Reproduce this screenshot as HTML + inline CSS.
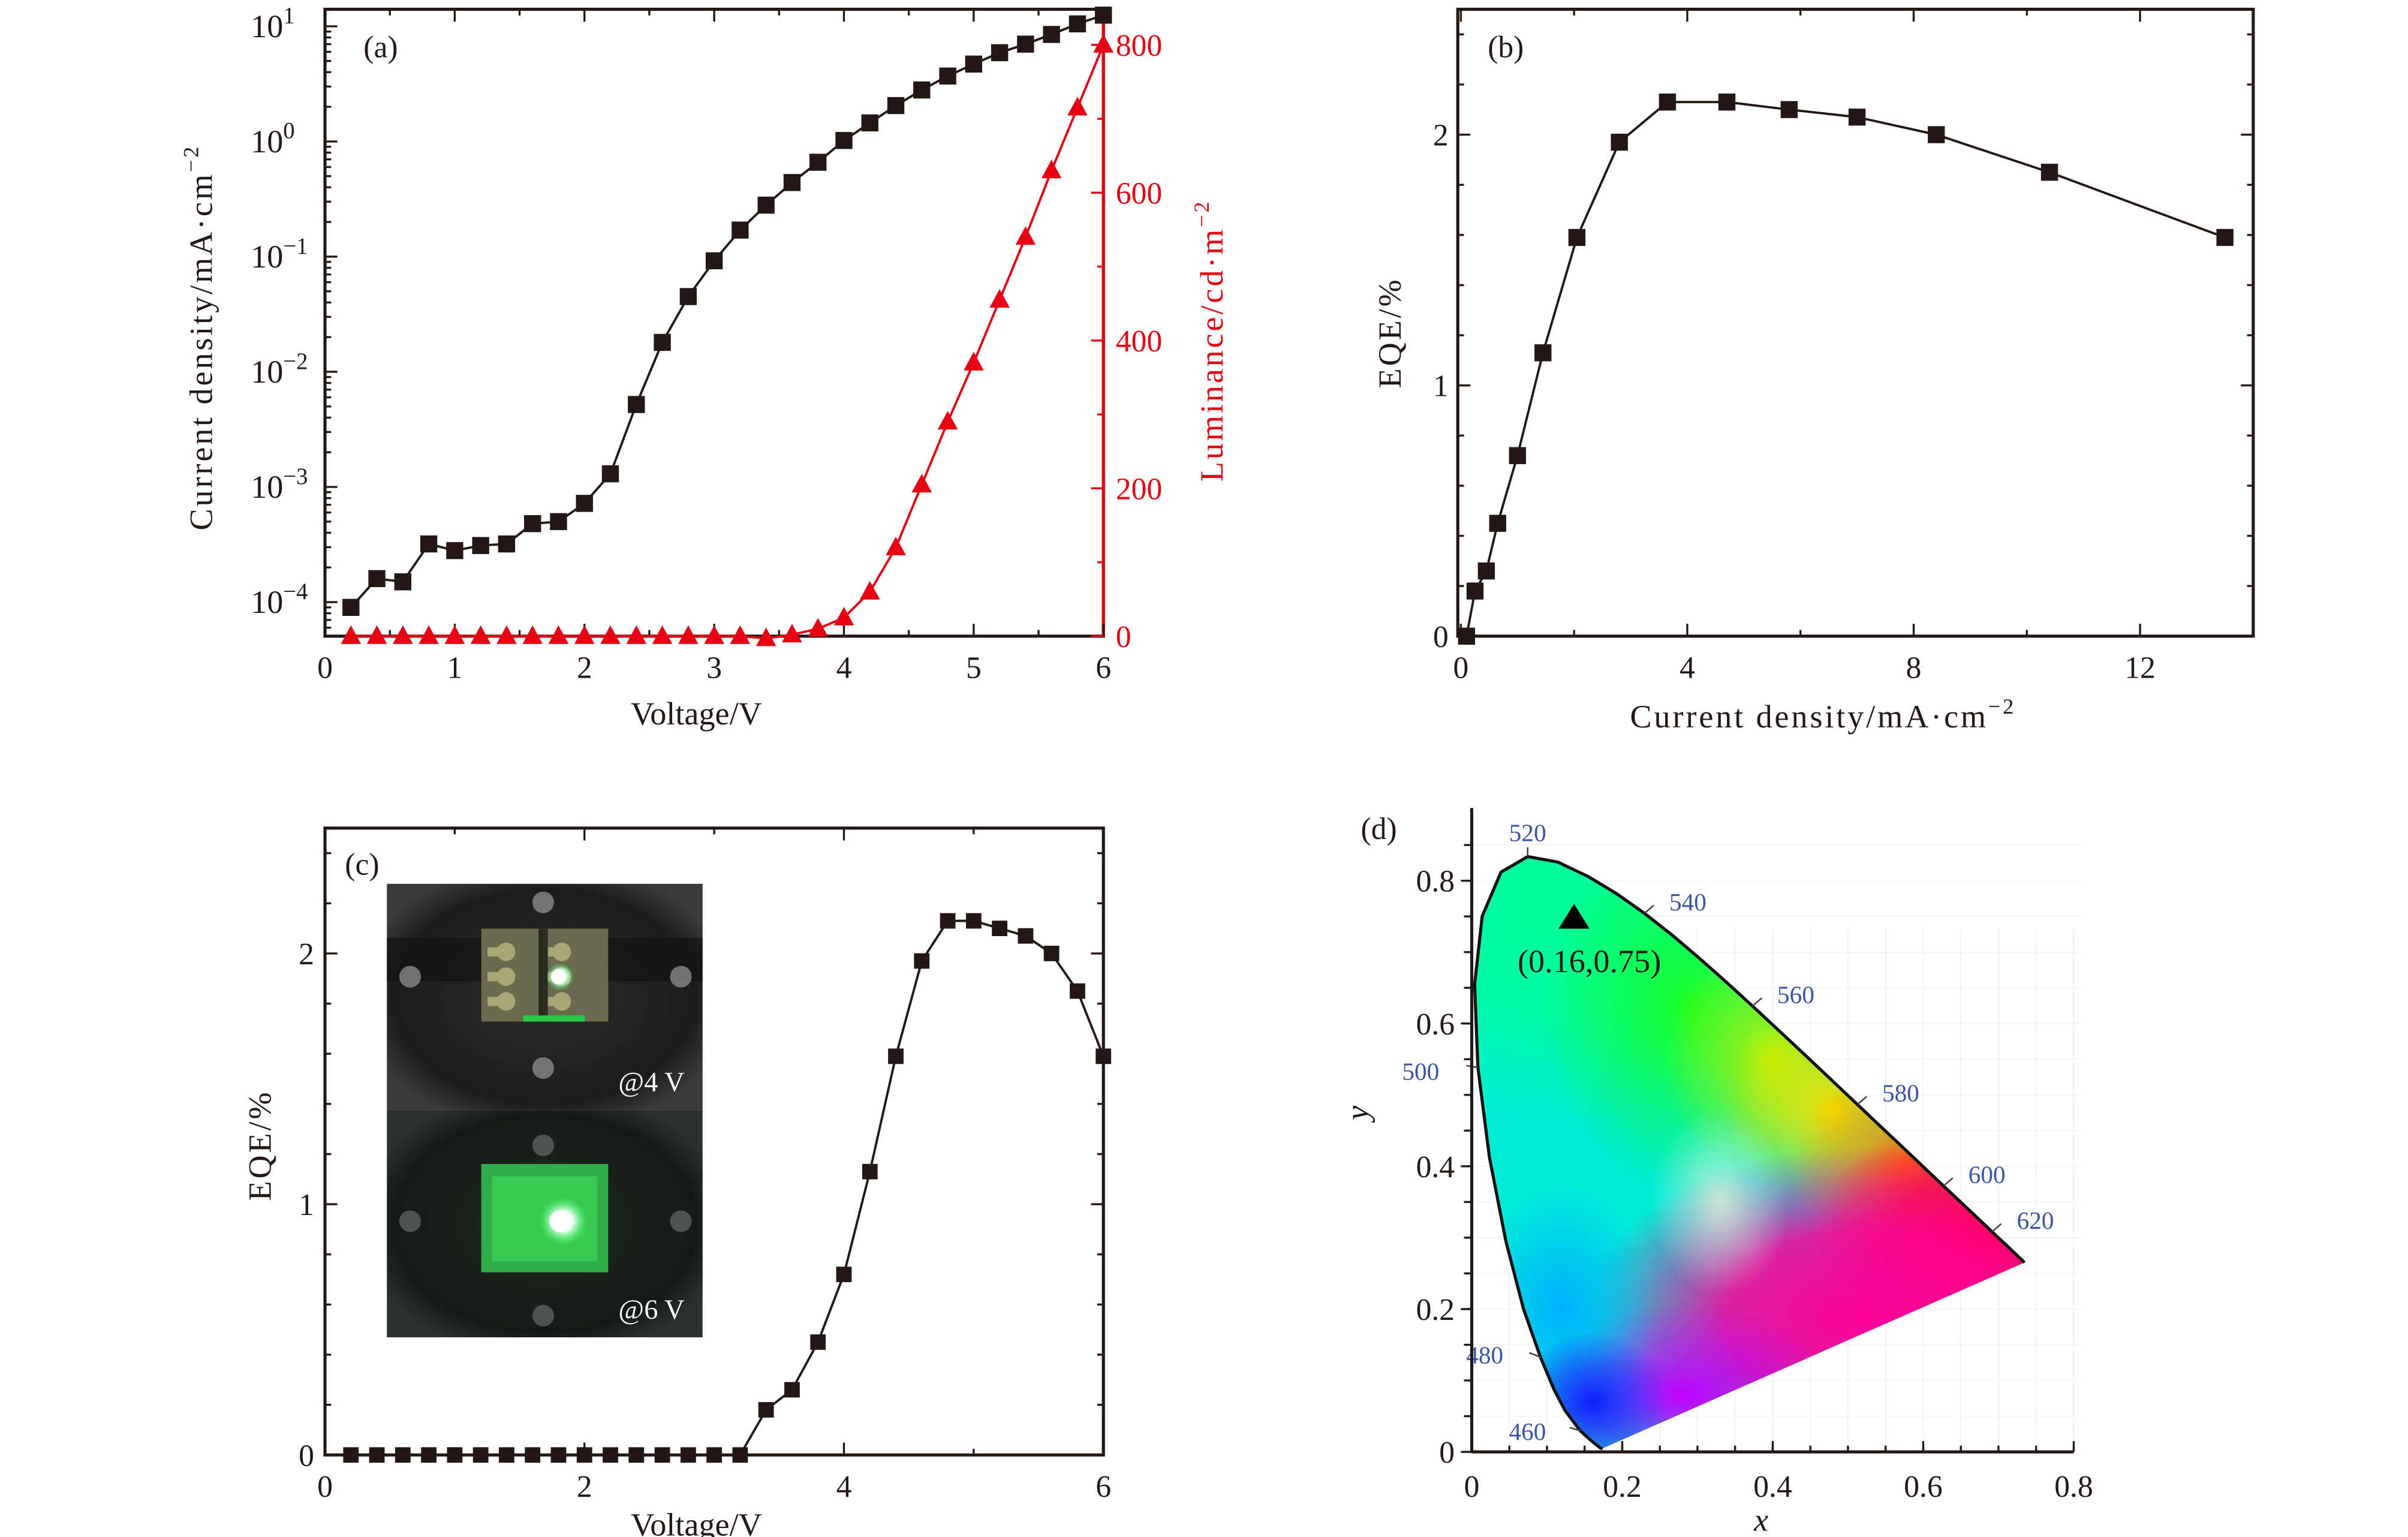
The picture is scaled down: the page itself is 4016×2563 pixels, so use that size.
<!DOCTYPE html>
<html><head><meta charset="utf-8">
<style>
html,body{margin:0;padding:0;background:#fff;}
svg{display:block;}
text{font-family:"Liberation Serif",serif;}
</style></head>
<body>
<svg id="fig" width="4016" height="2563" viewBox="0 0 1556 993" preserveAspectRatio="none" xmlns="http://www.w3.org/2000/svg">
<defs>
  <clipPath id="cieClip"><path id="cieClipPath" d=""/></clipPath>
  <radialGradient id="gWhite" cx="0.5" cy="0.5" r="0.5"><stop offset="0" stop-color="#eef0dc" stop-opacity="0.8"/><stop offset="1" stop-color="#eef0dc" stop-opacity="0"/></radialGradient>
  <radialGradient id="gMint" cx="0.5" cy="0.5" r="0.5"><stop offset="0" stop-color="#00ff98"/><stop offset="0.5" stop-color="#00ff98" stop-opacity="0.8"/><stop offset="1" stop-color="#00ff98" stop-opacity="0"/></radialGradient>
  <radialGradient id="gGreen" cx="0.5" cy="0.5" r="0.5"><stop offset="0" stop-color="#18ff20"/><stop offset="1" stop-color="#18ff20" stop-opacity="0"/></radialGradient>
  <radialGradient id="gLime" cx="0.5" cy="0.5" r="0.5"><stop offset="0" stop-color="#b8f000"/><stop offset="1" stop-color="#b8f000" stop-opacity="0"/></radialGradient>
  <radialGradient id="gYellow" cx="0.5" cy="0.5" r="0.5"><stop offset="0" stop-color="#f4e000"/><stop offset="1" stop-color="#f4e000" stop-opacity="0"/></radialGradient>
  <radialGradient id="gOrange" cx="0.5" cy="0.5" r="0.5"><stop offset="0" stop-color="#ff8400"/><stop offset="1" stop-color="#ff8400" stop-opacity="0"/></radialGradient>
  <radialGradient id="gRed" cx="0.5" cy="0.5" r="0.5"><stop offset="0" stop-color="#ff0030"/><stop offset="0.5" stop-color="#ff0030" stop-opacity="0.8"/><stop offset="1" stop-color="#ff0030" stop-opacity="0"/></radialGradient>
  <radialGradient id="gMag" cx="0.5" cy="0.5" r="0.5"><stop offset="0" stop-color="#ff0098"/><stop offset="0.5" stop-color="#ff0098" stop-opacity="0.85"/><stop offset="1" stop-color="#ff0098" stop-opacity="0"/></radialGradient>
  <radialGradient id="gViolet" cx="0.5" cy="0.5" r="0.5"><stop offset="0" stop-color="#c000ff"/><stop offset="1" stop-color="#c000ff" stop-opacity="0"/></radialGradient>
  <radialGradient id="gBlue" cx="0.5" cy="0.5" r="0.5"><stop offset="0" stop-color="#1020ff"/><stop offset="1" stop-color="#1020ff" stop-opacity="0"/></radialGradient>
  <radialGradient id="gSky" cx="0.5" cy="0.5" r="0.5"><stop offset="0" stop-color="#00b0ff"/><stop offset="1" stop-color="#00b0ff" stop-opacity="0"/></radialGradient>
  <radialGradient id="photoBg" cx="0.5" cy="0.5" r="0.6"><stop offset="0" stop-color="#2a2c2a"/><stop offset="0.8" stop-color="#1c1d1c"/><stop offset="1" stop-color="#3a3b3a"/></radialGradient>
  <radialGradient id="photoBg2" cx="0.5" cy="0.5" r="0.6"><stop offset="0" stop-color="#1f2a22"/><stop offset="0.8" stop-color="#151a16"/><stop offset="1" stop-color="#2c322e"/></radialGradient>
  <radialGradient id="glow" cx="0.5" cy="0.5" r="0.5"><stop offset="0" stop-color="#ffffff"/><stop offset="0.4" stop-color="#e8fff0"/><stop offset="1" stop-color="#30ff60" stop-opacity="0"/></radialGradient>
</defs>
<g id="root"></g>
</svg>
<script>
// ---------- data ----------
const voltA = [0.2,0.4,0.6,0.8,1.0,1.2,1.4,1.6,1.8,2.0,2.2,2.4,2.6,2.8,3.0,3.2,3.4,3.6,3.8,4.0,4.2,4.4,4.6,4.8,5.0,5.2,5.4,5.6,5.8,6.0];
const currentDensity = [9e-5,1.6e-4,1.5e-4,3.2e-4,2.8e-4,3.1e-4,3.2e-4,4.8e-4,5.0e-4,7.2e-4,1.3e-3,5.2e-3,1.8e-2,4.5e-2,9.2e-2,0.17,0.28,0.44,0.66,1.02,1.45,2.05,2.8,3.7,4.7,5.9,7.0,8.5,10.5,12.5];
const luminance = [0,0,0,0,0,0,0,0,0,0,0,0,0,0,0,0,-3,2,10,25,60,120,205,290,370,455,540,630,715,800];
const jB = [0.1,0.25,0.45,0.65,1.0,1.45,2.05,2.8,3.65,4.7,5.8,7.0,8.4,10.4,13.5];
const eqeB = [0,0.18,0.26,0.45,0.72,1.13,1.59,1.97,2.13,2.13,2.1,2.07,2.0,1.85,1.59];
const eqeC = [0,0,0,0,0,0,0,0,0,0,0,0,0,0,0,0,0.18,0.26,0.45,0.72,1.13,1.59,1.97,2.13,2.13,2.1,2.07,2.0,1.85,1.59];
const aLeftTicks = [-4,-3,-2,-1,0,1];
const aRightTicks = [0,200,400,600,800];
const aXTicks = [0,1,2,3,4,5,6];
const bXTicks = [0,4,8,12];
const eqeTicks = [0,1,2];
const cXTicks = [0,2,4,6];
const dTicks = [0,0.2,0.4,0.6,0.8];
const cieLocusX = [0.1741,0.1714,0.1644,0.1566,0.1440,0.1241,0.1096,0.0913,0.0687,0.0454,0.0235,0.0082,0.0039,0.0139,0.0389,0.0743,0.1142,0.1547,0.1929,0.2296,0.2658,0.3016,0.3373,0.3731,0.4087,0.4441,0.4788,0.5125,0.5448,0.5752,0.6029,0.6270,0.6482,0.6658,0.6801,0.6915,0.7006,0.7079,0.7140,0.7190,0.7347];
const cieLocusY = [0.0050,0.0051,0.0109,0.0177,0.0297,0.0578,0.0868,0.1327,0.2007,0.2950,0.4127,0.5384,0.6548,0.7502,0.8120,0.8338,0.8262,0.8059,0.7816,0.7543,0.7243,0.6923,0.6589,0.6245,0.5896,0.5547,0.5202,0.4866,0.4544,0.4242,0.3965,0.3725,0.3514,0.3340,0.3197,0.3083,0.2993,0.2920,0.2859,0.2809,0.2653];
const wlLabels = ["460","480","500","520","540","560","580","600","620"];
const wlX = [0.1440,0.0913,0.0082,0.0743,0.2296,0.3731,0.5125,0.6270,0.6915];
const wlY = [0.0297,0.1327,0.5384,0.8338,0.7543,0.6245,0.4866,0.3725,0.3083];
const ciePointX = [0.136];
const ciePointY = [0.748];

// ---------- helpers ----------
const NS="http://www.w3.org/2000/svg";
const root=document.getElementById('root');
function mk(tag,attrs,parent){const e=document.createElementNS(NS,tag);for(const k in attrs)e.setAttribute(k,attrs[k]);(parent||root).appendChild(e);return e;}
function txt(s,x,y,size,anchor,parent,fill,extra){const t=mk('text',Object.assign({x:x,y:y,'font-size':size,'text-anchor':anchor||'middle',fill:fill||'#231815'},extra||{}),parent);t.textContent=s;return t;}
function line(x1,y1,x2,y2,parent,stroke,w){return mk('line',{x1:x1,y1:y1,x2:x2,y2:y2,stroke:stroke||'#231815','stroke-width':w||1.3},parent);}
const lin=(d0,d1,p0,p1)=>v=>p0+(v-d0)*(p1-p0)/(d1-d0);

// ---------- panel a ----------
const ga=mk('g',{});


const axA=lin(0,6,210,713);
const ayA=v=>389-(Math.log10(v)+4)*74.4;
const ayR=lin(0,800,411,29);
mk('rect',{x:210,y:6,width:503,height:405,fill:'none',stroke:'#231815','stroke-width':2},ga);
line(713,6,713,411,ga,'#e60012',2);
aXTicks.forEach(v=>{const x=axA(v);line(x,411,x,403,ga);line(x,6,x,14,ga);txt(String(v),x,438,20,'middle',ga);});
for(let v=0.5;v<6;v+=1){const x=axA(v);line(x,411,x,407,ga);line(x,6,x,10,ga);}
aLeftTicks.forEach(p=>{const y=ayA(Math.pow(10,p));line(210,y,218,y,ga);
  const t=txt('10',195,y+7,21,'end',ga);const s=mk('tspan',{dy:-9,'font-size':15},t);s.textContent=(p<0?'\u2212':'')+Math.abs(p);t.setAttribute('x',162);t.setAttribute('text-anchor','start');});
for(let p=-5;p<=1;p++){for(let m=2;m<=9;m++){const y=ayA(m*Math.pow(10,p));if(y>6&&y<411)line(210,y,214,y,ga);}}
aRightTicks.forEach(v=>{const y=ayR(v);line(713,y,705,y,ga,'#e60012');txt(String(v),721,y+7,20,'start',ga,'#e60012');});
for(let v=100;v<800;v+=200){const y=ayR(v);line(713,y,709,y,ga,'#e60012');}
const la=txt('Current density/mA\u00b7cm',0,0,21,'middle',ga,'#231815',{transform:'translate(137,218) rotate(-90)','letter-spacing':'1.5'});
const las=mk('tspan',{dy:-9,'font-size':14},la);las.textContent='\u22122';
const lr=txt('Luminance/cd\u00b7m',0,0,21,'middle',ga,'#e60012',{transform:'translate(790,220) rotate(-90)','letter-spacing':'1.5'});
const lrs=mk('tspan',{dy:-9,'font-size':14},lr);lrs.textContent='\u22122';
txt('Voltage/V',450,468,21,'middle',ga);
txt('(a)',246,37,20,'middle',ga);
let pts=voltA.map((v,i)=>axA(v)+','+ayA(currentDensity[i])).join(' ');
const jl=mk('polyline',{points:pts,fill:'none',stroke:'#231815','stroke-width':1.5},ga);


voltA.forEach((v,i)=>{const r=mk('rect',{x:axA(v)-5.5,y:ayA(currentDensity[i])-5.5,width:11,height:11,fill:'#231815'},ga);
  
  });
pts=voltA.map((v,i)=>axA(v)+','+ayR(luminance[i])).join(' ');
const ll=mk('polyline',{points:pts,fill:'none',stroke:'#e60012','stroke-width':1.5},ga);


voltA.forEach((v,i)=>{const x=axA(v),y=ayR(luminance[i]);const t=mk('polygon',{points:`${x},${y-7} ${x-6.5},${y+5} ${x+6.5},${y+5}`,fill:'#e60012'},ga);
  
  });

// ---------- panel b ----------
const gb=mk('g',{});


const axB=lin(0,14,944,1456);
const ayB=lin(0,2.5,411,6);
mk('rect',{x:942,y:6,width:514,height:405,fill:'none',stroke:'#231815','stroke-width':2},gb);
bXTicks.forEach(v=>{const x=axB(v);line(x,411,x,403,gb);line(x,6,x,14,gb);txt(String(v),x,438,20,'middle',gb);});
for(let v=2;v<14;v+=4){const x=axB(v);line(x,411,x,407,gb);line(x,6,x,10,gb);}
eqeTicks.forEach(v=>{const y=ayB(v);line(942,y,950,y,gb);line(1456,y,1448,y,gb);txt(String(v),936,y+7,20,'end',gb);});
for(let v=0.2;v<2.5;v+=0.2){const y=ayB(v);if(Math.abs(v-1)>0.05&&Math.abs(v-2)>0.05){line(942,y,946,y,gb);line(1456,y,1452,y,gb);}}
txt('EQE/%',0,0,21,'middle',gb,'#231815',{transform:'translate(905,215) rotate(-90)','letter-spacing':'1.5'});
const lb=txt('Current density/mA\u00b7cm',1178,470,21,'middle',gb,'#231815',{'letter-spacing':'1.5'});
const lbs=mk('tspan',{dy:-9,'font-size':14},lb);lbs.textContent='\u22122';
txt('(b)',973,37,20,'middle',gb);
pts=jB.map((v,i)=>axB(v)+','+ayB(eqeB[i])).join(' ');
const bl=mk('polyline',{points:pts,fill:'none',stroke:'#231815','stroke-width':1.5},gb);


jB.forEach((v,i)=>{const r=mk('rect',{x:axB(v)-5.5,y:ayB(eqeB[i])-5.5,width:11,height:11,fill:'#231815'},gb);
  
  });

// ---------- panel c ----------
const gc=mk('g',{});


const axC=lin(0,6,210,713);
const ayC=lin(0,2.5,940,535);
mk('rect',{x:210,y:535,width:503,height:405,fill:'none',stroke:'#231815','stroke-width':2},gc);
cXTicks.forEach(v=>{const x=axC(v);line(x,940,x,932,gc);line(x,535,x,543,gc);txt(String(v),x,967,20,'middle',gc);});
for(let v=1;v<6;v+=2){const x=axC(v);line(x,940,x,936,gc);line(x,535,x,539,gc);}
eqeTicks.forEach(v=>{const y=ayC(v);line(210,y,218,y,gc);line(713,y,705,y,gc);txt(String(v),203,y+7,20,'end',gc);});
for(let v=0.2;v<2.5;v+=0.2){const y=ayC(v);if(Math.abs(v-1)>0.05&&Math.abs(v-2)>0.05){line(210,y,214,y,gc);line(713,y,709,y,gc);}}
txt('EQE/%',0,0,21,'middle',gc,'#231815',{transform:'translate(175,740) rotate(-90)','letter-spacing':'1.5'});
txt('Voltage/V',450,992,21,'middle',gc);
txt('(c)',234,565,20,'middle',gc);
// inset photos
const ph=mk('g',{},gc);


mk('rect',{x:250,y:571,width:204,height:146,fill:'url(#photoBg)'},ph);
mk('rect',{x:250,y:717,width:204,height:147,fill:'url(#photoBg2)'},ph);
mk('rect',{x:250,y:606,width:204,height:28,fill:'#121312',opacity:0.7},ph);
mk('rect',{x:311,y:600,width:82,height:60,fill:'#6b6a4e'},ph);
for(let r=0;r<3;r++){for(let c=0;c<2;c++){mk('circle',{cx:327+c*36,cy:615+r*16,r:6,fill:'#a8a577'},ph);mk('rect',{x:315+c*36,y:612+r*16,width:12,height:6,fill:'#a8a577'},ph);}}
mk('rect',{x:348,y:600,width:6,height:60,fill:'#2a2b22'},ph);
mk('circle',{cx:362,cy:631,r:9,fill:'url(#glow)'},ph);
mk('circle',{cx:361,cy:631,r:5,fill:'#ffffff'},ph);
mk('rect',{x:338,y:656,width:40,height:4,fill:'#2cc84a'},ph);
[[265,631],[440,631],[351,583],[351,690]].forEach(p=>mk('circle',{cx:p[0],cy:p[1],r:7,fill:'#8a8a88',opacity:0.8},ph));
mk('rect',{x:311,y:752,width:82,height:70,fill:'#2fae48'},ph);
mk('rect',{x:318,y:760,width:68,height:55,fill:'#3cd458',opacity:0.7},ph);
mk('circle',{cx:364,cy:789,r:16,fill:'url(#glow)'},ph);
mk('circle',{cx:362,cy:789,r:7,fill:'#ffffff'},ph);
[[265,789],[440,789],[351,740],[351,850]].forEach(p=>mk('circle',{cx:p[0],cy:p[1],r:7,fill:'#5c625e',opacity:0.8},ph));
txt('@4 V',421,705,18,'middle',ph,'#ffffff');
txt('@6 V',421,852,18,'middle',ph,'#ffffff');
pts=voltA.map((v,i)=>axC(v)+','+ayC(eqeC[i])).join(' ');
const cl=mk('polyline',{points:pts,fill:'none',stroke:'#231815','stroke-width':1.5},gc);


voltA.forEach((v,i)=>{const r=mk('rect',{x:axC(v)-5,y:ayC(eqeC[i])-5,width:10,height:10,fill:'#231815'},gc);
  
  });

// ---------- panel d ----------
const gd=mk('g',{});


const axD=lin(0,0.8,951,1340);
const ayD=lin(0,0.8,938,569);
// faint grid
for(let k=1;k<=16;k++){const v=k*0.05;line(axD(v),600,axD(v),938,gd,'#f1f1f1',0.7);}
for(let k=1;k<=17;k++){const v=k*0.05;line(951,ayD(v),1345,ayD(v),gd,'#f4f4f4',0.7);}
let d=cieLocusX.map((x,i)=>(i?'L':'M')+axD(x)+','+ayD(cieLocusY[i])).join(' ')+' Z';
document.getElementById('cieClipPath').setAttribute('d',d);
const cg=mk('g',{'clip-path':'url(#cieClip)'},gd);
mk('rect',{x:940,y:540,width:420,height:410,fill:'#00ecd8'},cg);
mk('ellipse',{cx:axD(0.11),cy:ayD(0.78),rx:140,ry:150,fill:'url(#gMint)'},cg);
mk('ellipse',{cx:axD(0.29),cy:ayD(0.62),rx:95,ry:120,fill:'url(#gGreen)'},cg);
mk('ellipse',{cx:axD(0.40),cy:ayD(0.55),rx:70,ry:80,fill:'url(#gLime)'},cg);
mk('ellipse',{cx:axD(0.48),cy:ayD(0.48),rx:70,ry:70,fill:'url(#gYellow)'},cg);
mk('ellipse',{cx:axD(0.58),cy:ayD(0.40),rx:75,ry:70,fill:'url(#gOrange)'},cg);
mk('ellipse',{cx:axD(0.68),cy:ayD(0.30),rx:110,ry:80,fill:'url(#gRed)'},cg);
mk('ellipse',{cx:axD(0.52),cy:ayD(0.19),rx:180,ry:110,fill:'url(#gMag)'},cg);
mk('ellipse',{cx:axD(0.28),cy:ayD(0.08),rx:100,ry:60,fill:'url(#gViolet)'},cg);
mk('ellipse',{cx:axD(0.12),cy:ayD(0.20),rx:60,ry:80,fill:'url(#gSky)'},cg);
mk('ellipse',{cx:axD(0.16),cy:ayD(0.07),rx:50,ry:45,fill:'url(#gBlue)'},cg);
mk('ellipse',{cx:axD(0.33),cy:ayD(0.35),rx:45,ry:60,fill:'url(#gWhite)'},cg);
// locus outline (spectral part only)
const lp=cieLocusX.map((x,i)=>(i?'L':'M')+axD(x)+','+ayD(cieLocusY[i])).join(' ');
const lo=mk('path',{d:lp,fill:'none',stroke:'#111','stroke-width':2},gd);


// wavelength labels
wlLabels.forEach((s,i)=>{const x=axD(wlX[i]),y=ayD(wlY[i]);
  const dx={460:-22,480:-24,500:-25,520:0,540:20,560:20,580:20,600:20,620:20}[s];
  const dy={460:0,480:-2,500:2,520:-10,540:-8,560:-8,580:-8,600:-8,620:-8}[s];
  line(x,y,x+dx*0.3,y+dy*0.4-2,gd,'#444',1);
  txt(s,x+dx+(dx>0?8:0),y+dy+(s==='520'?0:6),16,dx>0?'middle':(dx<0?'end':'middle'),gd,'#3a55a8');});
// axes
line(951,522,951,938,gd,'#231815',2);
line(951,938,1340,938,gd,'#231815',2);
dTicks.forEach(v=>{const y=ayD(v);line(944,y,951,y,gd);txt(v===0?'0':v.toFixed(1),940,y+7,20,'end',gd);
  const x=axD(v);txt(v===0?'0':v.toFixed(1),x,967,20,'middle',gd);line(x,938,x,931,gd);});
for(let k=1;k<=17;k++){line(946,ayD(k*0.05),951,ayD(k*0.05),gd);}
for(let k=1;k<16;k++){line(axD(k*0.05),938,axD(k*0.05),934,gd);}
txt('y',884,719,21,'middle',gd,'#231815',{'font-style':'italic',transform:'rotate(-90 884 719)'});
txt('x',1138,989,21,'middle',gd,'#231815',{'font-style':'italic'});
txt('(d)',891,542,20,'middle',gd);
ciePointX.forEach((px,i)=>{const x=axD(px),y=ayD(ciePointY[i]);
  const t=mk('polygon',{points:`${x},${y-9} ${x-10},${y+7} ${x+10},${y+7}`,fill:'#000'},gd);
  
  });
txt('(0.16,0.75)',1027,628,21,'middle',gd);
</script>
</body></html>
